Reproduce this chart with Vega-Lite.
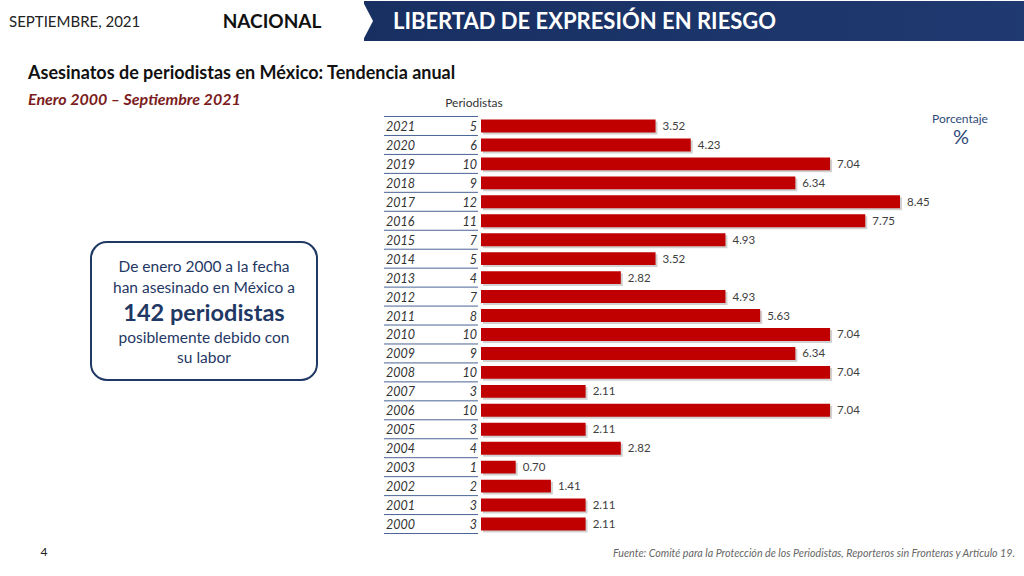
{
  "$schema": "https://vega.github.io/schema/vega-lite/v6.json",
  "width": 1024,
  "height": 576,
  "autosize": {"type": "fit", "contains": "padding"},
  "padding": 0,
  "background": "white",
  "config": {"view": {"stroke": null}, "font": "Lato"},
  "data": {"values": [
      {"year": "2021", "n": 5, "pct": 3.52},
      {"year": "2020", "n": 6, "pct": 4.23},
      {"year": "2019", "n": 10, "pct": 7.04},
      {"year": "2018", "n": 9, "pct": 6.34},
      {"year": "2017", "n": 12, "pct": 8.45},
      {"year": "2016", "n": 11, "pct": 7.75},
      {"year": "2015", "n": 7, "pct": 4.93},
      {"year": "2014", "n": 5, "pct": 3.52},
      {"year": "2013", "n": 4, "pct": 2.82},
      {"year": "2012", "n": 7, "pct": 4.93},
      {"year": "2011", "n": 8, "pct": 5.63},
      {"year": "2010", "n": 10, "pct": 7.04},
      {"year": "2009", "n": 9, "pct": 6.34},
      {"year": "2008", "n": 10, "pct": 7.04},
      {"year": "2007", "n": 3, "pct": 2.11},
      {"year": "2006", "n": 10, "pct": 7.04},
      {"year": "2005", "n": 3, "pct": 2.11},
      {"year": "2004", "n": 4, "pct": 2.82},
      {"year": "2003", "n": 1, "pct": 0.70},
      {"year": "2002", "n": 2, "pct": 1.41},
      {"year": "2001", "n": 3, "pct": 2.11},
      {"year": "2000", "n": 3, "pct": 2.11}
  ]},
  "layer": [
    {
      "mark": {"type": "rule", "x": 383, "x2": 477, "yOffset": 9.5, "color": "#4a6496", "strokeWidth": 1},
      "encoding": {
        "y": {"field": "year", "type": "nominal", "sort": "descending",
          "scale": {"range": [115.5, 532.5], "paddingInner": 0.32, "paddingOuter": 0.16},
          "axis": null}
      }
    },
    {
      "mark": {"type": "rule", "x": 383, "x2": 477, "yOffset": -9.5, "color": "#4a6496", "strokeWidth": 1},
      "transform": [{"filter": "datum.year == '2021'"}],
      "encoding": {
        "y": {"field": "year", "type": "nominal", "sort": "descending"}
      }
    },
    {
      "mark": {"type": "text", "x": 385, "align": "left", "baseline": "middle", "dy": 1, "fontSize": 12.5, "fontStyle": "italic", "color": "#333333"},
      "encoding": {
        "y": {"field": "year", "type": "nominal", "sort": "descending"},
        "text": {"field": "year"}
      }
    },
    {
      "mark": {"type": "text", "x": 476, "align": "right", "baseline": "middle", "dy": 1, "fontSize": 12.5, "fontStyle": "italic", "color": "#333333"},
      "encoding": {
        "y": {"field": "year", "type": "nominal", "sort": "descending"},
        "text": {"field": "n"}
      }
    },
    {
      "mark": {"type": "bar", "color": "#000000", "opacity": 0.18, "xOffset": 2, "yOffset": 2},
      "encoding": {
        "y": {"field": "year", "type": "nominal", "sort": "descending"},
        "x": {"field": "pct", "type": "quantitative",
          "scale": {"domain": [0, 8.45], "range": [480, 899], "nice": false, "zero": true},
          "axis": null}
      }
    },
    {
      "mark": {"type": "bar", "color": "#c00000"},
      "encoding": {
        "y": {"field": "year", "type": "nominal", "sort": "descending"},
        "x": {"field": "pct", "type": "quantitative"}
      }
    },
    {
      "mark": {"type": "text", "align": "left", "baseline": "middle", "dx": 7, "dy": 1, "fontSize": 11.5, "color": "#404040"},
      "encoding": {
        "y": {"field": "year", "type": "nominal", "sort": "descending"},
        "x": {"field": "pct", "type": "quantitative"},
        "text": {"field": "pct", "type": "quantitative", "format": ".2f"}
      }
    },
    {
      "data": {"values": [{}]},
      "mark": {"type": "rect", "x": 363, "x2": 1024, "y": 0, "y2": 40,
        "color": {"gradient": "linear", "x1": 0, "x2": 1, "y1": 0, "y2": 0,
          "stops": [{"offset": 0, "color": "#182f62"}, {"offset": 1, "color": "#1f3a70"}]}},
      "encoding": {}
    },
    {
      "data": {"values": [{}]},
      "mark": {"type": "rule", "x": 363, "x2": 1024, "y": 40.5, "color": "#9aa3b5", "strokeWidth": 1},
      "encoding": {}
    },
    {
      "data": {"values": [{}]},
      "mark": {"type": "point", "filled": true, "opacity": 1, "color": "white", "strokeWidth": 0,
        "shape": "M -1.1 -1.05 L -0.55 0 L -1.1 1.05 Z", "x": 383, "y": 20, "size": 1600},
      "encoding": {}
    },
    {
      "data": {"values": [{}]},
      "mark": {"type": "text", "text": "LIBERTAD DE EXPRESIÓN EN RIESGO", "x": 392, "y": 21, "align": "left", "baseline": "middle",
        "fontSize": 22, "fontWeight": "bold", "color": "white"},
      "encoding": {}
    },
    {
      "data": {"values": [{}]},
      "mark": {"type": "text", "text": "SEPTIEMBRE, 2021", "x": 8, "y": 21, "align": "left", "baseline": "middle",
        "fontSize": 15, "color": "#222222"},
      "encoding": {}
    },
    {
      "data": {"values": [{}]},
      "mark": {"type": "rule", "x": 177.5, "y": 0, "y2": 40, "color": "#2f4a80", "strokeWidth": 2},
      "encoding": {}
    },
    {
      "data": {"values": [{}]},
      "mark": {"type": "text", "text": "NACIONAL", "x": 271, "y": 21, "align": "center", "baseline": "middle",
        "fontSize": 19, "fontWeight": "bold", "color": "#111111"},
      "encoding": {}
    },
    {
      "data": {"values": [{}]},
      "mark": {"type": "text", "text": "Asesinatos de periodistas en México: Tendencia anual", "x": 27, "y": 73, "align": "left", "baseline": "middle",
        "fontSize": 18, "fontWeight": "bold", "color": "#111111"},
      "encoding": {}
    },
    {
      "data": {"values": [{}]},
      "mark": {"type": "text", "text": "Enero 2000 – Septiembre 2021", "x": 27, "y": 99, "align": "left", "baseline": "middle",
        "fontSize": 16, "fontWeight": "bold", "fontStyle": "italic", "color": "#7b1c1c"},
      "encoding": {}
    },
    {
      "data": {"values": [{}]},
      "mark": {"type": "rect", "x": 90, "x2": 316, "y": 241, "y2": 379, "cornerRadius": 16,
        "fill": "white", "stroke": "#1f3864", "strokeWidth": 2},
      "encoding": {}
    },
    {
      "data": {"values": [{}]},
      "mark": {"type": "text", "text": "De enero 2000 a la fecha", "x": 203, "y": 266, "align": "center", "baseline": "middle",
        "fontSize": 15.5, "color": "#1f3864"},
      "encoding": {}
    },
    {
      "data": {"values": [{}]},
      "mark": {"type": "text", "text": "han asesinado en México a", "x": 203, "y": 287, "align": "center", "baseline": "middle",
        "fontSize": 15.5, "color": "#1f3864"},
      "encoding": {}
    },
    {
      "data": {"values": [{}]},
      "mark": {"type": "text", "text": "142 periodistas", "x": 203, "y": 313, "align": "center", "baseline": "middle",
        "fontSize": 23.5, "fontWeight": "bold", "color": "#1f3864"},
      "encoding": {}
    },
    {
      "data": {"values": [{}]},
      "mark": {"type": "text", "text": "posiblemente debido con", "x": 203, "y": 337, "align": "center", "baseline": "middle",
        "fontSize": 15.5, "color": "#1f3864"},
      "encoding": {}
    },
    {
      "data": {"values": [{}]},
      "mark": {"type": "text", "text": "su labor", "x": 203, "y": 357, "align": "center", "baseline": "middle",
        "fontSize": 15.5, "color": "#1f3864"},
      "encoding": {}
    },
    {
      "data": {"values": [{}]},
      "mark": {"type": "text", "text": "Periodistas", "x": 473, "y": 102, "align": "center", "baseline": "middle",
        "fontSize": 12, "color": "#333333"},
      "encoding": {}
    },
    {
      "data": {"values": [{}]},
      "mark": {"type": "text", "text": "Porcentaje", "x": 959, "y": 118, "align": "center", "baseline": "middle",
        "fontSize": 12, "color": "#2f4a7a"},
      "encoding": {}
    },
    {
      "data": {"values": [{}]},
      "mark": {"type": "text", "text": "%", "x": 960, "y": 137, "align": "center", "baseline": "middle",
        "fontSize": 20, "color": "#2f4a7a"},
      "encoding": {}
    },
    {
      "data": {"values": [{}]},
      "mark": {"type": "text", "text": "4", "x": 43, "y": 551, "align": "center", "baseline": "middle",
        "fontSize": 12, "color": "#222222"},
      "encoding": {}
    },
    {
      "data": {"values": [{}]},
      "mark": {"type": "text", "text": "Fuente: Comité para la Protección de los Periodistas, Reporteros sin Fronteras y Artículo 19.", "x": 1014, "y": 553, "align": "right", "baseline": "middle",
        "fontSize": 10.7, "fontStyle": "italic", "color": "#666666"},
      "encoding": {}
    }
  ]
}
